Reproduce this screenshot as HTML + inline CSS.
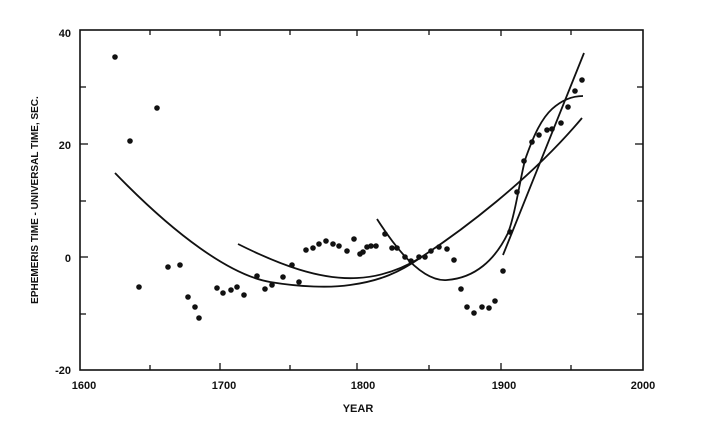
<!DOCTYPE html>
<html><head><meta charset="utf-8"><style>
html,body{margin:0;padding:0;background:#fff}
svg{display:block}
text{font-family:"Liberation Sans",Arial,sans-serif;font-weight:bold;fill:#111}
</style></head><body>
<svg width="701" height="427" viewBox="0 0 701 427" xmlns="http://www.w3.org/2000/svg">
<rect x="80" y="30" width="563" height="340" fill="none" stroke="#111" stroke-width="1.6"/>
<g stroke="#111" stroke-width="1.3">
<line x1="150" y1="30" x2="150" y2="35"/><line x1="220" y1="30" x2="220" y2="36"/><line x1="290" y1="30" x2="290" y2="35"/><line x1="357" y1="30" x2="357" y2="36"/><line x1="429" y1="30" x2="429" y2="35"/><line x1="501" y1="30" x2="501" y2="36"/><line x1="571" y1="30" x2="571" y2="35"/>
<line x1="150" y1="370" x2="150" y2="365"/><line x1="220" y1="370" x2="220" y2="363"/><line x1="290" y1="370" x2="290" y2="365"/><line x1="357" y1="370" x2="357" y2="363"/><line x1="429" y1="370" x2="429" y2="365"/><line x1="501" y1="370" x2="501" y2="363"/><line x1="571" y1="370" x2="571" y2="365"/>
<line x1="80" y1="87" x2="86" y2="87"/><line x1="80" y1="144" x2="88" y2="144"/><line x1="80" y1="201" x2="86" y2="201"/><line x1="80" y1="257" x2="88" y2="257"/><line x1="80" y1="314" x2="86" y2="314"/>
<line x1="643" y1="87" x2="637" y2="87"/><line x1="643" y1="144" x2="635" y2="144"/><line x1="643" y1="201" x2="637" y2="201"/><line x1="643" y1="257" x2="635" y2="257"/><line x1="643" y1="314" x2="637" y2="314"/>
</g>
<g font-size="11" text-anchor="end">
<text x="71" y="37">40</text><text x="71" y="149">20</text><text x="71" y="262">0</text><text x="71" y="374">-20</text>
</g>
<g font-size="11" text-anchor="middle">
<text x="84" y="389">1600</text><text x="224" y="389">1700</text><text x="363" y="389">1800</text><text x="504" y="389">1900</text><text x="643" y="389">2000</text>
<text x="358" y="412">YEAR</text>
<text transform="translate(38,200) rotate(-90)" font-size="10">EPHEMERIS TIME -  UNIVERSAL TIME, SEC.</text>
</g>
<g fill="none" stroke="#111" stroke-width="1.8">
<path d="M115,173 C175,235 230,275 270,282 C300,287 330,288 350,285 C380,281 400,272 420,258 C460,232 530,180 582,118"/>
<path d="M238,244 C280,265 320,280 357,278 C380,277 400,270 420,258"/>
<path d="M377,219 C400,255 425,282 447,280 C475,278 495,260 508,233 C515,215 520,180 525,160 C532,140 540,120 552,109 C562,100 572,96 583,96"/>
<path d="M503,255 L584,53"/>
</g>
<g fill="#111">
<circle cx="115" cy="57" r="2.8"/><circle cx="130" cy="141" r="2.8"/><circle cx="157" cy="108" r="2.8"/><circle cx="139" cy="287" r="2.8"/><circle cx="168" cy="267" r="2.8"/><circle cx="180" cy="265" r="2.8"/><circle cx="188" cy="297" r="2.8"/><circle cx="195" cy="307" r="2.8"/><circle cx="199" cy="318" r="2.8"/><circle cx="217" cy="288" r="2.8"/><circle cx="223" cy="293" r="2.8"/><circle cx="231" cy="290" r="2.8"/><circle cx="237" cy="287" r="2.8"/><circle cx="244" cy="295" r="2.8"/><circle cx="257" cy="276" r="2.8"/><circle cx="265" cy="289" r="2.8"/><circle cx="272" cy="285" r="2.8"/><circle cx="283" cy="277" r="2.8"/><circle cx="292" cy="265" r="2.8"/><circle cx="299" cy="282" r="2.8"/><circle cx="306" cy="250" r="2.8"/><circle cx="313" cy="248" r="2.8"/><circle cx="319" cy="244" r="2.8"/><circle cx="326" cy="241" r="2.8"/><circle cx="333" cy="244" r="2.8"/><circle cx="339" cy="246" r="2.8"/><circle cx="347" cy="251" r="2.8"/><circle cx="354" cy="239" r="2.8"/><circle cx="360" cy="254" r="2.8"/><circle cx="363" cy="252" r="2.8"/><circle cx="367" cy="247" r="2.8"/><circle cx="371" cy="246" r="2.8"/><circle cx="376" cy="246" r="2.8"/><circle cx="385" cy="234" r="2.8"/><circle cx="392" cy="248" r="2.8"/><circle cx="397" cy="248" r="2.8"/><circle cx="405" cy="257" r="2.8"/><circle cx="411" cy="261" r="2.8"/><circle cx="419" cy="257" r="2.8"/><circle cx="425" cy="257" r="2.8"/><circle cx="431" cy="251" r="2.8"/><circle cx="439" cy="247" r="2.8"/><circle cx="447" cy="249" r="2.8"/><circle cx="454" cy="260" r="2.8"/><circle cx="461" cy="289" r="2.8"/><circle cx="467" cy="307" r="2.8"/><circle cx="474" cy="313" r="2.8"/><circle cx="482" cy="307" r="2.8"/><circle cx="489" cy="308" r="2.8"/><circle cx="495" cy="301" r="2.8"/><circle cx="503" cy="271" r="2.8"/><circle cx="510" cy="232" r="2.8"/><circle cx="517" cy="192" r="2.8"/><circle cx="524" cy="161" r="2.8"/><circle cx="532" cy="142" r="2.8"/><circle cx="539" cy="135" r="2.8"/><circle cx="547" cy="130" r="2.8"/><circle cx="552" cy="129" r="2.8"/><circle cx="561" cy="123" r="2.8"/><circle cx="568" cy="107" r="2.8"/><circle cx="575" cy="91" r="2.8"/><circle cx="582" cy="80" r="2.8"/>
</g>
</svg>
</body></html>
